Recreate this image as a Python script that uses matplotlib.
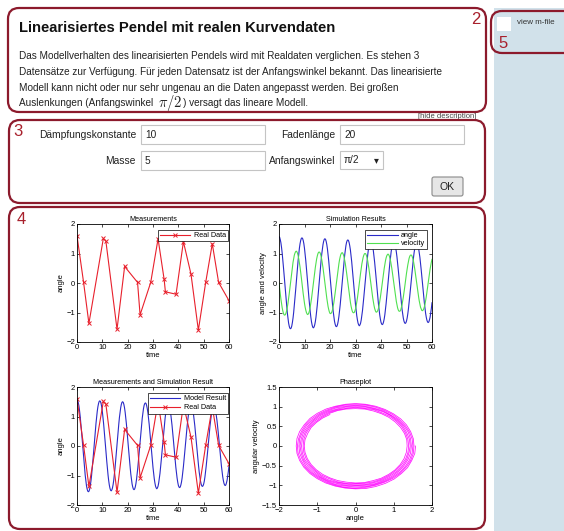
import numpy as np
import matplotlib.pyplot as plt
from matplotlib.patches import FancyBboxPatch, Rectangle

plt.rcParams['font.family'] = ['Liberation Sans', 'DejaVu Sans']
plt.rcParams['mathtext.fontset'] = 'cm'

# measured pendulum data (time, angle)
t_meas = [0, 2.6, 4.7, 10.4, 11.4, 15.8, 18.8, 23.9, 24.9, 29.1, 32.0,
          34.4, 34.9, 39.1, 42.0, 45.0, 47.9, 50.8, 53.4, 55.9, 60.0]
a_meas = [1.60, 0.02, -1.37, 1.51, 1.42, -1.57, 0.56, 0.02, -1.08, 0.02, 1.50,
          0.12, -0.30, -0.38, 1.40, 0.30, -1.60, 0.02, 1.33, 0.02, -0.60]

# simulation result, read every 0.25 s (one row = one swing of 9 s)
t_sim = np.linspace(0, 60, 241)
angle = [
    1.57, 1.55, 1.47, 1.36, 1.20, 1.01, 0.78, 0.53, 0.27, 0.00, -0.27, -0.53, -0.78, -1.00, -1.19, -1.35, -1.46, -1.53,
    -1.55, -1.53, -1.46, -1.34, -1.19, -1.00, -0.77, -0.53, -0.27, 0.00, 0.27, 0.53, 0.77, 0.99, 1.18, 1.33, 1.44, 1.51,
    1.53, 1.51, 1.44, 1.33, 1.17, 0.98, 0.76, 0.52, 0.27, 0.00, -0.27, -0.52, -0.76, -0.98, -1.17, -1.32, -1.43, -1.50,
    -1.52, -1.49, -1.42, -1.31, -1.16, -0.97, -0.76, -0.52, -0.26, 0.00, 0.26, 0.51, 0.75, 0.97, 1.15, 1.30, 1.41, 1.48,
    1.50, 1.48, 1.41, 1.30, 1.15, 0.96, 0.75, 0.51, 0.26, 0.00, -0.26, -0.51, -0.74, -0.96, -1.14, -1.29, -1.39, -1.46,
    -1.48, -1.46, -1.39, -1.28, -1.13, -0.95, -0.74, -0.50, -0.26, 0.00, 0.26, 0.50, 0.73, 0.94, 1.12, 1.27, 1.38, 1.44,
    1.46, 1.44, 1.37, 1.26, 1.12, 0.94, 0.73, 0.50, 0.25, 0.00, -0.25, -0.50, -0.73, -0.93, -1.11, -1.25, -1.36, -1.42,
    -1.45, -1.42, -1.36, -1.25, -1.10, -0.93, -0.72, -0.49, -0.25, 0.00, 0.25, 0.49, 0.72, 0.92, 1.10, 1.24, 1.34, 1.41,
    1.43, 1.40, 1.34, 1.23, 1.09, 0.91, 0.71, 0.49, 0.25, 0.00, -0.25, -0.48, -0.71, -0.91, -1.08, -1.22, -1.33, -1.39,
    -1.41, -1.39, -1.32, -1.22, -1.08, -0.90, -0.70, -0.48, -0.24, 0.00, 0.24, 0.48, 0.70, 0.90, 1.07, 1.21, 1.31, 1.37,
    1.39, 1.37, 1.31, 1.20, 1.06, 0.89, 0.69, 0.47, 0.24, 0.00, -0.24, -0.47, -0.69, -0.89, -1.05, -1.19, -1.29, -1.35,
    -1.37, -1.35, -1.29, -1.19, -1.05, -0.88, -0.68, -0.47, -0.24, 0.00, 0.24, 0.47, 0.68, 0.87, 1.04, 1.18, 1.28, 1.34,
    1.35, 1.33, 1.27, 1.17, 1.03, 0.87, 0.67, 0.46, 0.23, 0.00, -0.23, -0.46, -0.67, -0.86, -1.03, -1.16, -1.26, -1.32,
    -1.34, -1.32, -1.25, -1.16, -1.02, -0.86, -0.67]
velocity = [
    0.00, -0.19, -0.37, -0.55, -0.70, -0.84, -0.95, -1.03, -1.08, -1.09, -1.07, -1.02, -0.94, -0.83, -0.70, -0.54, -0.37, -0.19,
    0.00, 0.19, 0.37, 0.54, 0.70, 0.83, 0.94, 1.01, 1.06, 1.08, 1.06, 1.01, 0.93, 0.82, 0.69, 0.54, 0.37, 0.19,
    0.00, -0.19, -0.37, -0.53, -0.69, -0.82, -0.92, -1.00, -1.05, -1.07, -1.05, -1.00, -0.92, -0.81, -0.68, -0.53, -0.36, -0.18,
    0.00, 0.18, 0.36, 0.53, 0.68, 0.81, 0.91, 0.99, 1.04, 1.05, 1.04, 0.99, 0.91, 0.80, 0.67, 0.52, 0.36, 0.18,
    0.00, -0.18, -0.36, -0.52, -0.67, -0.80, -0.90, -0.98, -1.03, -1.04, -1.02, -0.98, -0.90, -0.79, -0.67, -0.52, -0.35, -0.18,
    0.00, 0.18, 0.35, 0.52, 0.66, 0.79, 0.89, 0.97, 1.01, 1.03, 1.01, 0.96, 0.89, 0.78, 0.66, 0.51, 0.35, 0.18,
    0.00, -0.18, -0.35, -0.51, -0.65, -0.78, -0.88, -0.96, -1.00, -1.01, -1.00, -0.95, -0.88, -0.78, -0.65, -0.51, -0.35, -0.18,
    0.00, 0.18, 0.34, 0.50, 0.65, 0.77, 0.87, 0.94, 0.99, 1.00, 0.99, 0.94, 0.87, 0.77, 0.64, 0.50, 0.34, 0.17,
    0.00, -0.17, -0.34, -0.50, -0.64, -0.76, -0.86, -0.93, -0.98, -0.99, -0.97, -0.93, -0.86, -0.76, -0.63, -0.49, -0.34, -0.17,
    0.00, 0.17, 0.34, 0.49, 0.63, 0.75, 0.85, 0.92, 0.96, 0.98, 0.96, 0.92, 0.84, 0.75, 0.63, 0.49, 0.33, 0.17,
    0.00, -0.17, -0.33, -0.48, -0.62, -0.74, -0.84, -0.91, -0.95, -0.96, -0.95, -0.91, -0.83, -0.74, -0.62, -0.48, -0.33, -0.17,
    0.00, 0.17, 0.33, 0.48, 0.61, 0.73, 0.83, 0.90, 0.94, 0.95, 0.94, 0.89, 0.82, 0.73, 0.61, 0.47, 0.32, 0.16,
    0.00, -0.16, -0.32, -0.47, -0.61, -0.72, -0.82, -0.88, -0.93, -0.94, -0.92, -0.88, -0.81, -0.72, -0.60, -0.47, -0.32, -0.16,
    0.00, 0.16, 0.32, 0.47, 0.60, 0.71, 0.80]

title = 'Linearisiertes Pendel mit realen Kurvendaten'
desc = ['Das Modellverhalten des linearisierten Pendels wird mit Realdaten verglichen. Es stehen 3',
        'Datensätze zur Verfügung. Für jeden Datensatz ist der Anfangswinkel bekannt. Das linearisierte',
        'Modell kann nicht oder nur sehr ungenau an die Daten angepasst werden. Bei großen']
phase_yticks = [-1.5, -1, -0.5, 0, 0.5, 1, 1.5]
phase_ylabels = ['−1.5', '−1', '−0.5', '0', '0.5', '1', '1.5']

W, H = 564, 531
fig = plt.figure(figsize=(W / 100, H / 100), dpi=100)

ui = fig.add_axes([0, 0, 1, 1])
ui.set_xlim(0, W)
ui.set_ylim(H, 0)
ui.axis('off')

RED = '#8c1a2c'
NUM = '#a8202c'
TXT = '#222222'

# right side panel
ui.add_patch(Rectangle((494, 8), 70, 523, fc='#d1e1ea', ec='none'))


def box(x0, y0, x1, y1, fc='none'):
    ui.add_patch(FancyBboxPatch((x0, y0), x1 - x0, y1 - y0,
                                boxstyle='round,pad=0,rounding_size=11',
                                fc=fc, ec=RED, lw=1.6, zorder=3))


# box 2 : description
box(8, 8, 486, 112)
ui.text(476, 20, '2', color=NUM, fontsize=12, ha='center', va='center')
ui.text(19, 28, title, fontsize=10.6, fontweight='bold', va='center', color='#111111')
for y, s in zip([56, 72, 88], desc):
    ui.text(19, y, s, fontsize=7.2, va='center', color=TXT)
t4 = ui.text(19, 103, 'Auslenkungen (Anfangswinkel ', fontsize=7.2, va='center', color=TXT)
fig.canvas.draw()
x_end = t4.get_window_extent().x1
tm = ui.text(x_end + 2, 103, r'$\pi/2$', fontsize=10.5, va='center', color=TXT)
fig.canvas.draw()
x_end = tm.get_window_extent().x1
ui.text(x_end + 1, 103, ') versagt das lineare Modell.', fontsize=7.2, va='center', color=TXT)
ui.text(476, 117, '[hide description]', fontsize=5.5, ha='right', va='center', color='#444444', zorder=1)

# box 5 : m-file
box(491, 11, 590, 53)
ui.add_patch(Rectangle((497, 17), 14, 14, fc='white', ec='none', zorder=4))
ui.text(517, 23, 'view m-file', fontsize=5.8, va='center', color='#333333', zorder=4)
ui.text(498, 43, '5', color=NUM, fontsize=12, ha='left', va='center', zorder=4)

# box 3 : parameters
box(9, 120, 485, 203, fc='white')
ui.text(18, 132, '3', color=NUM, fontsize=12, ha='center', va='center', zorder=4)


def field(x0, y0, x1, y1, s):
    ui.add_patch(Rectangle((x0, y0), x1 - x0, y1 - y0, fc='white', ec='#c4c4c4', lw=0.8, zorder=4))
    ui.text(x0 + 4, (y0 + y1) / 2, s, fontsize=7.3, va='center', color=TXT, zorder=5)


for lab, x, y in [('Dämpfungskonstante', 136, 135), ('Fadenlänge', 335, 135),
                  ('Masse', 136, 161), ('Anfangswinkel', 335, 161)]:
    ui.text(x, y, lab, fontsize=7.35, ha='right', va='center', color=TXT, zorder=4)
field(141, 125, 265, 144, '10')
field(340, 125, 464, 144, '20')
field(141, 151, 265, 170, '5')
field(340, 151, 383, 169, 'π/2')
ui.text(376, 160, '▾', fontsize=7, ha='center', va='center', color=TXT, zorder=5)
ui.add_patch(FancyBboxPatch((432, 177), 31, 19, boxstyle='round,pad=0,rounding_size=2',
                            fc='#e6e6e6', ec='#8a8a8a', lw=0.8, zorder=4))
ui.text(447.5, 187, 'OK', fontsize=7.5, ha='center', va='center', color=TXT, zorder=5)

# box 4 : plots
box(9, 207, 485, 529, fc='white')
ui.text(21, 220, '4', color=NUM, fontsize=12, ha='center', va='center', zorder=4)


def axes_px(x0, y0, x1, y1):
    ax = fig.add_axes([x0 / W, 1 - y1 / H, (x1 - x0) / W, (y1 - y0) / H])
    ax.tick_params(direction='in', top=True, right=True, length=2.5, width=0.5,
                   labelsize=5.5, pad=1.5)
    for sp in ax.spines.values():
        sp.set_linewidth(0.6)
    return ax


def style(ax, ttl, xl, yl):
    ax.set_title(ttl, fontsize=5.2, pad=2.5)
    ax.set_xlabel(xl, fontsize=5.5, labelpad=1)
    ax.set_ylabel(yl, fontsize=5.5, labelpad=1)


def leg(ax, anchor, sp=0.15):
    ax.legend(loc='upper right', bbox_to_anchor=anchor, fontsize=5.2, fancybox=False,
              edgecolor='black', framealpha=1, handlelength=4.2, borderpad=0.3,
              labelspacing=sp, handletextpad=0.5, borderaxespad=0).get_frame().set_linewidth(0.5)


RC, BC, GC, MC = '#e8202c', '#2a2ac8', '#50e050', '#ff10ff'

ax1 = axes_px(77, 224, 229, 342)
ax1.plot(t_meas, a_meas, color=RC, lw=0.8, marker='x', ms=2.5, mew=0.7, label='Real Data')
ax1.set_xlim(0, 60)
ax1.set_ylim(-2, 2)
ax1.set_xticks(range(0, 61, 10))
ax1.set_yticks([-2, -1, 0, 1, 2])
style(ax1, 'Measurements', 'time', 'angle')
leg(ax1, (0.995, 0.95))

ax2 = axes_px(279, 224, 432, 342)
ax2.plot(t_sim, angle, color=BC, lw=0.8, label='angle')
ax2.plot(t_sim, velocity, color=GC, lw=0.8, label='velocity')
ax2.set_xlim(0, 60)
ax2.set_ylim(-2, 2)
ax2.set_xticks(range(0, 61, 10))
ax2.set_yticks([-2, -1, 0, 1, 2])
style(ax2, 'Simulation Results', 'time', 'angle and velocity')
leg(ax2, (0.97, 0.95))

ax3 = axes_px(77, 387, 229, 505)
ax3.plot(t_sim, angle, color=BC, lw=0.8, label='Model Result')
ax3.plot(t_meas, a_meas, color=RC, lw=0.8, marker='x', ms=2.5, mew=0.7, label='Real Data')
ax3.set_xlim(0, 60)
ax3.set_ylim(-2, 2)
ax3.set_xticks(range(0, 61, 10))
ax3.set_yticks([-2, -1, 0, 1, 2])
style(ax3, 'Measurements and Simulation Result', 'time', 'angle')
leg(ax3, (0.995, 0.95), sp=0.3)

ax4 = axes_px(279, 387, 432, 505)
ax4.plot(angle, velocity, color=MC, lw=0.55)
ax4.set_xlim(-2, 2)
ax4.set_ylim(-1.5, 1.5)
ax4.set_xticks([-2, -1, 0, 1, 2])
ax4.set_yticks(phase_yticks)
ax4.set_yticklabels(phase_ylabels)
style(ax4, 'Phaseplot', 'angle', 'angular velocity')

fig.savefig('out.png', dpi=100)
